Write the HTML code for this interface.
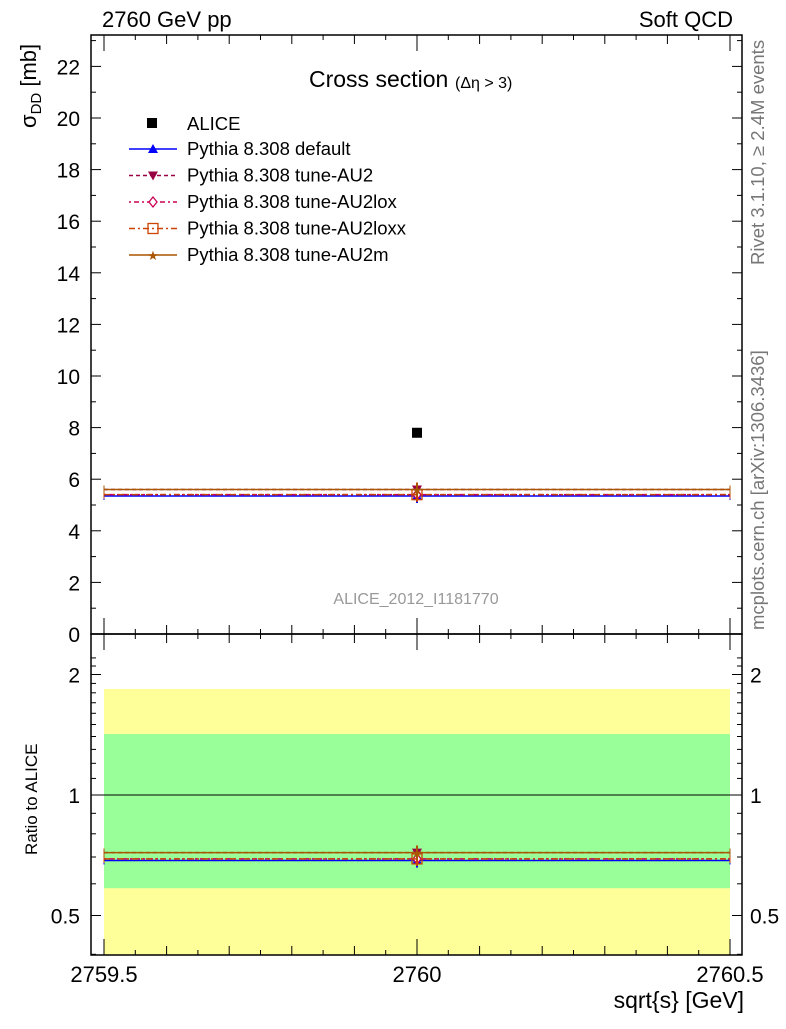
<!DOCTYPE html>
<html><head><meta charset="utf-8"><style>
body{margin:0;background:#fff}
svg text{font-family:"Liberation Sans",sans-serif}
</style></head><body>
<svg id="c" width="786" height="1024" xmlns="http://www.w3.org/2000/svg"></svg>
<script>
const categories=[2760];
const seriesNames=["Pythia 8.308 default","Pythia 8.308 tune-AU2","Pythia 8.308 tune-AU2lox","Pythia 8.308 tune-AU2loxx","Pythia 8.308 tune-AU2m"];
const seriesValues=[5.35,5.6,5.4,5.4,5.6];
const dataValues=[7.8];
const yTicks=[0,2,4,6,8,10,12,14,16,18,20,22];
const xTicks=[2759.5,2760,2760.5];
const rTicks=[0.5,1,2];
const greenBand=[0.585,1.42];
const yellowBand=[0.3,1.84];
const colors=["#0000ff","#990044","#cc0055","#cc4400","#aa5500"];
const dashes=["","4,3","2,3,5,3","6,3,2,3",""];
const svg=document.getElementById('c');const NS="http://www.w3.org/2000/svg";
function el(t,a,p){const e=document.createElementNS(NS,t);for(const k in a)e.setAttribute(k,a[k]);(p||svg).appendChild(e);return e;}
function tx(s,x,y,a,p){const e=el('text',Object.assign({x:x,y:y},a),p);e.textContent=s;return e;}
const L=91,R=742,T=35,MB=634,RB=955;
const X=v=>104+(v-2759.5)*626;
const Y=v=>634-v*25.8;
const RY=v=>795-Math.log2(v)*120.5;
let g=el('g',{});
el('rect',{x:X(2759.5),y:RY(yellowBand[1]),width:X(2760.5)-X(2759.5),height:RB-RY(yellowBand[1]),fill:'#ffff99'},g);
el('rect',{x:X(2759.5),y:RY(greenBand[1]),width:X(2760.5)-X(2759.5),height:RY(greenBand[0])-RY(greenBand[1]),fill:'#99ff99'},g);
el('line',{x1:L,x2:R,y1:RY(1),y2:RY(1),stroke:'#000'});
el('rect',{x:L,y:T,width:R-L,height:MB-T,fill:'none',stroke:'#000','stroke-width':1.5,});
el('rect',{x:L,y:MB,width:R-L,height:RB-MB,fill:'none',stroke:'#000','stroke-width':1.5,});
for(let v=0;v<=23;v+=0.5){const y=Y(v);if(y<T)break;const major=v%2==0;const len=major?10:(v%1==0?5:0);if(!len)continue;
el('line',{x1:L,x2:L+len,y1:y,y2:y,stroke:'#000'});el('line',{x1:R,x2:R-len,y1:y,y2:y,stroke:'#000'});}
yTicks.forEach(v=>{const t=tx(v,80,Y(v)+8,{'font-size':21,'text-anchor':'end'});});
for(let v=0.4;v<=2.3;v+=0.1){const y=RY(v);if(y<MB||y>RB)continue;const major=rTicks.some(r=>Math.abs(r-v)<1e-6);const len=major?10:5;
el('line',{x1:L,x2:L+len,y1:y,y2:y,stroke:'#000'});el('line',{x1:R,x2:R-len,y1:y,y2:y,stroke:'#000'});}
rTicks.forEach(v=>{tx(v,80,RY(v)+8,{'font-size':21,'text-anchor':'end'});tx(v,750,RY(v)+8,{'font-size':21});});
for(let v=2759.45;v<=2760.56;v+=0.05){const x=X(v);if(x<L||x>R)continue;const k=Math.round(v*20);const len=k%10==0?16:(k%2==0?9:5);
[MB,RB].forEach(b=>el('line',{x1:x,x2:x,y1:b,y2:b-len,stroke:'#000'}));
[T,MB].forEach(b=>el('line',{x1:x,x2:x,y1:b,y2:b+len,stroke:'#000'}));}
xTicks.forEach(v=>{const t=tx(v,X(v),982,{'font-size':22,'text-anchor':'middle'});});
function marker(i,x,y,p){const c=colors[i];
if(i==0)el('polygon',{points:`${x-5},${y+4} ${x+5},${y+4} ${x},${y-5}`,fill:c},p);
else if(i==1)el('polygon',{points:`${x-5},${y-4} ${x+5},${y-4} ${x},${y+5}`,fill:c},p);
else if(i==2)el('polygon',{points:`${x},${y-5} ${x+4},${y} ${x},${y+5} ${x-4},${y}`,fill:'#fff',stroke:c,'stroke-width':1.3},p);
else if(i==3)el('rect',{x:x-5,y:y-5,width:10,height:10,fill:'none',stroke:c,'stroke-width':1.3},p);
else tx('★',x,y+5,{'font-size':13,'text-anchor':'middle',fill:c},p);}
seriesValues.forEach((v,i)=>{const gg=el('g',{});
[Y(v),RY(v/dataValues[0])].forEach(y=>{
el('line',{x1:X(2759.5),x2:X(2760.5),y1:y,y2:y,stroke:colors[i],'stroke-width':1.5,'stroke-dasharray':dashes[i]},gg);
el('line',{x1:X(2759.5),x2:X(2759.5),y1:y-4,y2:y+4,stroke:colors[i]},gg);
el('line',{x1:X(2760.5),x2:X(2760.5),y1:y-4,y2:y+4,stroke:colors[i]},gg);
el('line',{x1:X(2760),x2:X(2760),y1:y-7,y2:y+7,stroke:colors[i],'stroke-width':2},gg);
marker(i,X(2760),y,gg);});});
dataValues.forEach((v,i)=>{const r=el('rect',{x:X(categories[i])-5,y:Y(v)-5,width:10,height:10,fill:'#000'});});
const lg=el('g',{});
el('rect',{x:147,y:118,width:10,height:10,fill:'#000'},lg);tx('ALICE',187,130,{'font-size':18.5},lg);
seriesNames.forEach((n,i)=>{const y=149+i*26.5;el('line',{x1:129,x2:177,y1:y,y2:y,stroke:colors[i],'stroke-width':1.5,'stroke-dasharray':dashes[i]},lg);marker(i,153,y,lg);tx(n,187,y+6,{'font-size':18.5},lg);});
tx('2760 GeV pp',102,27,{'font-size':22,});
tx('Soft QCD',733,27,{'font-size':22,'text-anchor':'end',});
tx('Cross section',309,87,{'font-size':23,});
tx('(Δη > 3)',455,88,{'font-size':16});
tx('ALICE_2012_I1181770',416,604,{'font-size':16,fill:'#999','text-anchor':'middle',});
const yl=el('text',{transform:'translate(36,128) rotate(-90)','font-size':22,});yl.innerHTML='σ<tspan font-size="15" dy="5">DD</tspan><tspan dy="-5"> [mb]</tspan>';
tx('Ratio to ALICE',0,0,{transform:'translate(37,855) rotate(-90)','font-size':17,});
tx('sqrt{s} [GeV]',744,1008,{'font-size':23,'text-anchor':'end',});
tx('Rivet 3.1.10, ≥ 2.4M events',0,0,{transform:'translate(764,265) rotate(-90)','font-size':18.5,fill:'#777'});
tx('mcplots.cern.ch [arXiv:1306.3436]',0,0,{transform:'translate(764,630) rotate(-90)','font-size':18.5,fill:'#777'});
</script>
</body></html>
